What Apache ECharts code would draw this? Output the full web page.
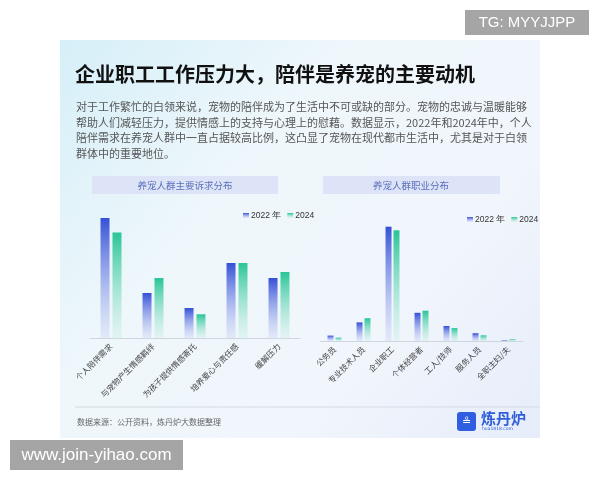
<!DOCTYPE html>
<html>
<head>
<meta charset="utf-8">
<style>
html,body{margin:0;padding:0;background:#fff;}
#main{width:600px;height:480px;}
</style>
<script src="https://cdn.jsdelivr.net/npm/echarts@6/dist/echarts.min.js"></script>
</head>
<body>
<div id="main"></div>
<script>
const titleText = '企业职工工作压力大，陪伴是养宠的主要动机';
const paraLines = [
  '对于工作繁忙的白领来说，宠物的陪伴成为了生活中不可或缺的部分。宠物的忠诚与温暖能够',
  '帮助人们减轻压力，提供情感上的支持与心理上的慰藉。数据显示，2022年和2024年中，个人',
  '陪伴需求在养宠人群中一直占据较高比例，这凸显了宠物在现代都市生活中，尤其是对于白领',
  '群体中的重要地位。'
];
const leftTitle = '养宠人群主要诉求分布';
const rightTitle = '养宠人群职业分布';
const seriesNames = ['2022 年', '2024'];
const leftCategories = ['个人陪伴需求', '与宠物产生情感羁绊', '为孩子提供情感寄托', '培养爱心与责任感', '缓解压力'];
const left2022 = [40, 15, 10, 25, 20];
const left2024 = [35.2, 20, 7.9, 25, 22];
const rightCategories = ['公务员', '专业技术人员', '企业职工', '个体经营者', '工人/技师', '服务人员', '全职主妇/夫'];
const right2022 = [1.8, 6.2, 38.1, 9.4, 5.0, 2.6, 0.2];
const right2024 = [1.1, 7.6, 36.9, 10.1, 4.3, 1.9, 0.6];
const sourceText = '数据来源：公开资料，炼丹炉大数据整理';
const logoText = '炼丹炉';
const logoSub = 'hua1818.com';
const tgText = 'TG: MYYJJPP';
const wwwText = 'www.join-yihao.com';

const CJK = '"Noto Sans CJK SC", "Noto Sans", sans-serif';

function grad(top, bottom) {
  return new echarts.graphic.LinearGradient(0, 0, 0, 1, [
    { offset: 0, color: top },
    { offset: 1, color: bottom }
  ]);
}
const c2022 = grad('#3550d6', 'rgba(200,208,245,0.35)');
const c2024 = grad('#28c597', 'rgba(200,238,228,0.35)');

const chart = echarts.init(document.getElementById('main'), null, { renderer: 'canvas' });

const graphics = [
  { type: 'rect', z: -10, shape: { x: 60, y: 40, width: 480, height: 398 },
    style: { fill: new echarts.graphic.LinearGradient(0, 0, 1, 1, [
      { offset: 0, color: '#d6eff8' },
      { offset: 0.35, color: '#eef7fb' },
      { offset: 0.7, color: '#f1f6fc' },
      { offset: 1, color: '#e6ecfa' }
    ]) } },
  { type: 'text', left: 75, top: 64, style: { text: titleText, font: 'bold 20px ' + CJK, fill: '#111' } },
  { type: 'rect', shape: { x: 92, y: 176, width: 186, height: 18 }, style: { fill: '#dde4f7' } },
  { type: 'text', x: 185, y: 185, style: { text: leftTitle, font: '9.5px ' + CJK, fill: '#5b6fb8', align: 'center', verticalAlign: 'middle' } },
  { type: 'rect', shape: { x: 323, y: 176, width: 177, height: 18 }, style: { fill: '#dde4f7' } },
  { type: 'text', x: 411, y: 185, style: { text: rightTitle, font: '9.5px ' + CJK, fill: '#5b6fb8', align: 'center', verticalAlign: 'middle' } },
  { type: 'line', shape: { x1: 75, y1: 407, x2: 540, y2: 407 }, style: { stroke: '#d3dbe3', lineWidth: 1 } },
  { type: 'text', x: 77, y: 422, style: { text: sourceText, font: '8px ' + CJK, fill: '#666', verticalAlign: 'middle' } },
  { type: 'rect', shape: { x: 457, y: 412, width: 19, height: 19, r: 3 }, style: { fill: '#2f5ee0' } },
  { type: 'text', x: 466.5, y: 422, style: { text: '≗', font: '11px DejaVu Sans', fill: '#fff', align: 'center', verticalAlign: 'middle' } },
  { type: 'text', x: 481, y: 418, style: { text: logoText, font: 'bold 15px ' + CJK, fill: '#2f5ed8', verticalAlign: 'middle' } },
  { type: 'text', x: 482, y: 429, style: { text: logoSub, font: '4.5px DejaVu Sans', fill: '#2f5ed8', verticalAlign: 'middle' } },
  { type: 'rect', shape: { x: 465, y: 10, width: 124, height: 25 }, style: { fill: '#a5a5a5' } },
  { type: 'text', x: 527, y: 22.5, style: { text: tgText, font: '15px "Liberation Sans", Arial, sans-serif', fill: '#fff', align: 'center', verticalAlign: 'middle' } },
  { type: 'rect', shape: { x: 10, y: 440, width: 173, height: 30 }, style: { fill: '#a5a5a5' } },
  { type: 'text', x: 96.5, y: 455, style: { text: wwwText, font: '17px "Liberation Sans", Arial, sans-serif', fill: '#fff', align: 'center', verticalAlign: 'middle' } }
];
paraLines.forEach(function (t, i) {
  graphics.push({ type: 'text', x: 76, y: 107 + i * 15.5, style: { text: t, font: '11px ' + CJK, fill: '#555', verticalAlign: 'middle' } });
});

function xAxisCfg(idx, cats) {
  return {
    type: 'category', gridIndex: idx, data: cats,
    axisLine: { lineStyle: { color: '#cfd6de' } },
    axisTick: { show: false },
    axisLabel: { rotate: 45, fontSize: 8, color: '#444', margin: 7, interval: 0, fontFamily: 'Noto Sans CJK SC' }
  };
}
function yAxisCfg(idx) {
  return { type: 'value', gridIndex: idx, min: 0, max: 40, show: false, splitLine: { show: false } };
}
function barCfg(name, data, idx, color, bw, gap) {
  return {
    type: 'bar', name: name, data: data, xAxisIndex: idx, yAxisIndex: idx,
    barWidth: bw, barGap: gap, itemStyle: { color: color }, silent: true
  };
}
const legendText = { fontSize: 8.5, color: '#333', padding: [0, 0, 0, -3] };

chart.setOption({
  animation: false,
  backgroundColor: '#ffffff',
  graphic: graphics,
  legend: [
    { data: seriesNames, left: 238, top: 206, itemWidth: 6, itemHeight: 5, itemGap: 6, icon: 'rect', textStyle: legendText },
    { data: seriesNames, left: 462, top: 210, itemWidth: 6, itemHeight: 5, itemGap: 6, icon: 'rect', textStyle: legendText }
  ],
  color: ['#3550d6', '#28c597'],
  grid: [
    { left: 90, width: 210, top: 218, bottom: 142 },
    { left: 320, width: 203, top: 221, bottom: 139 }
  ],
  xAxis: [xAxisCfg(0, leftCategories), xAxisCfg(1, rightCategories)],
  yAxis: [yAxisCfg(0), yAxisCfg(1)],
  series: [
    barCfg(seriesNames[0], left2022, 0, c2022, 9, '33%'),
    barCfg(seriesNames[1], left2024, 0, c2024, 9, '33%'),
    barCfg(seriesNames[0], right2022, 1, c2022, 6, '33%'),
    barCfg(seriesNames[1], right2024, 1, c2024, 6, '33%')
  ]
});
</script>
</body>
</html>
